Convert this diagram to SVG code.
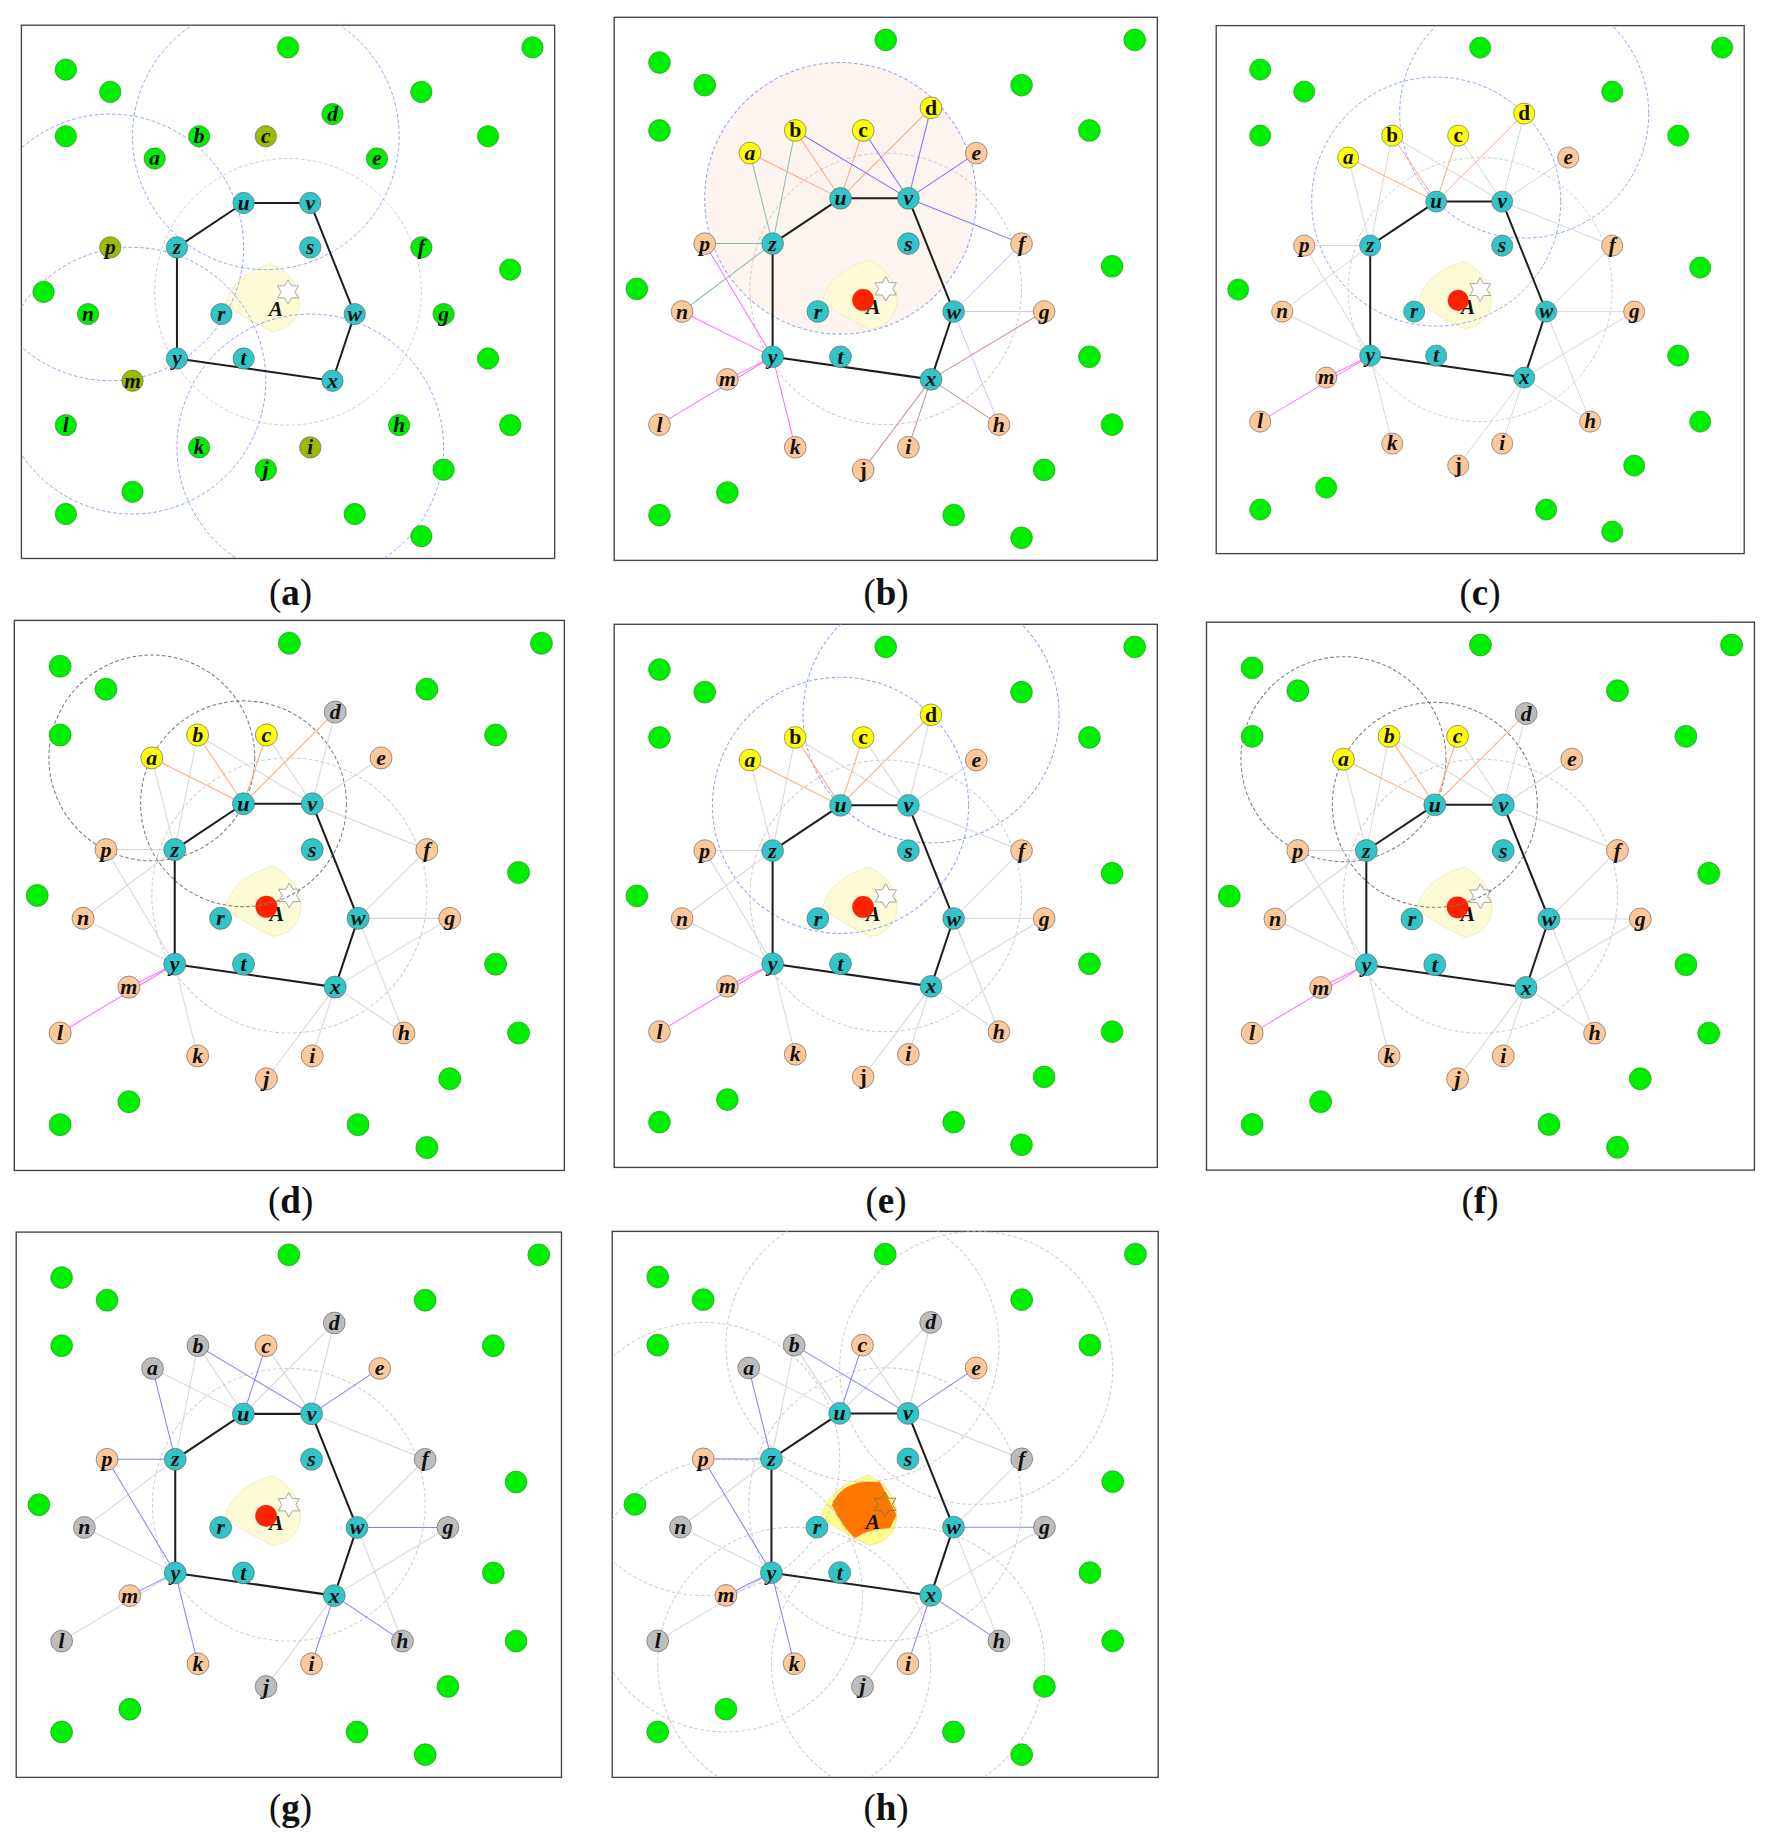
<svg xmlns="http://www.w3.org/2000/svg" width="1773" height="1845" viewBox="0 0 1773 1845">
<style>
text{font-family:"Liberation Serif","Times New Roman",serif;font-weight:bold;fill:#111}
.l{font-size:.96px;font-style:italic;text-anchor:middle}
.up{font-style:normal}
.cap{font-size:37px;font-weight:normal;text-anchor:middle}
.bd{fill:#fff;stroke:#444;stroke-width:.06}
.gn circle{fill:#00ee00;stroke:#2d8f2d;stroke-width:.03}
.nd circle{stroke:#666;stroke-width:.03}
.nT circle{fill:#30c5c8}
.nG circle{fill:#00ee00}
.nO circle{fill:#99bb00}
.nY circle{fill:#ffff00}
.nP circle{fill:#fdc99b}
.nR circle{fill:#bdbdbd}
.pent{fill:none;stroke:#1e1e1e;stroke-width:.09;stroke-linejoin:round}
.e path{fill:none;stroke-width:.045}
.eo{stroke:#ffa878}
.eb{stroke:#7474ff}
.et{stroke:#86c0b4}
.em{stroke:#ff6cff}
.el{stroke:#d4c4ff}
.er{stroke:#c89494}
.eg{stroke:#d6d6d6}
.ev{stroke:#8080ff}
.dc circle{fill:none;stroke-width:.045;stroke-dasharray:.16 .1}
.cb{stroke:#8ea2ff}
.cg{stroke:#cdcdcd}
.ck{stroke:#7a7a7a}
.area{fill:#fdfbd6;stroke:#ece4a8;stroke-width:.03}
.area2{fill:#ffff8c;stroke:#e6dc70;stroke-width:.03}
.orng{fill:#ff7700}
.star{fill:#fff;stroke:#999;stroke-width:.04}
.star2{fill:none;stroke:#7b7b3b;stroke-width:.04}
.red{fill:#ff2200}
</style>
<defs>
<clipPath id="cp"><rect width="24" height="24"/></clipPath>
<g id="greens" class="gn">
<circle cx="12" cy="1" r=".48"/><circle cx="23" cy="1" r=".48"/><circle cx="2" cy="2" r=".48"/><circle cx="4" cy="3" r=".48"/>
<circle cx="18" cy="3" r=".48"/><circle cx="2" cy="5" r=".48"/><circle cx="21" cy="5" r=".48"/><circle cx="22" cy="11" r=".48"/>
<circle cx="1" cy="12" r=".48"/><circle cx="21" cy="15" r=".48"/><circle cx="22" cy="18" r=".48"/><circle cx="5" cy="21" r=".48"/>
<circle cx="19" cy="20" r=".48"/><circle cx="2" cy="22" r=".48"/><circle cx="15" cy="22" r=".48"/><circle cx="18" cy="23" r=".48"/>
</g>
<polygon id="star6" points="12,11.46 12.155,11.73 12.47,11.73 12.31,12 12.47,12.27 12.155,12.27 12,12.54 11.845,12.27 11.53,12.27 11.69,12 11.53,11.73 11.845,11.73"/>
</defs>
<rect width="1773" height="1845" fill="#fff"/>

<!-- ===== Panel (a) ===== -->
<g id="panel-a" transform="translate(21.4,25.2) scale(22.22)">
<rect class="bd" width="24" height="24"/>
<path class="area" d="M11.28,10.72 Q12.5,11.36 12.51,12.55 Q12.4,13.63 11.3,13.79 Q10.3,13.35 9.2,12.57 Q9.46,11.26 11.28,10.72Z"/>
<text class="l" x="11.45" y="13.1">A</text>
<use href="#star6" class="star"/>
<g class="dc" clip-path="url(#cp)">
<circle class="cb" cx="11" cy="5" r="6"/><circle class="cb" cx="4" cy="10" r="6"/><circle class="cb" cx="5" cy="16" r="6"/><circle class="cb" cx="13" cy="19" r="6"/><circle class="cg" cx="12" cy="12" r="6"/>
</g>
<g id="a-connectors"><polygon class="pent" points="10,8 13,8 15,13 14,16 7,15 7,10"/></g>
<use href="#greens"/>
<g id="a-a" class="nd nG"><circle cx="6" cy="6" r=".48"/><text class="l" x="6" y="6.31">a</text></g>
<g id="a-b" class="nd nG"><circle cx="8" cy="5" r=".48"/><text class="l" x="8" y="5.31">b</text></g>
<g id="a-c" class="nd nO"><circle cx="11" cy="5" r=".48"/><text class="l" x="11" y="5.31">c</text></g>
<g id="a-d" class="nd nG"><circle cx="14" cy="4" r=".48"/><text class="l" x="14" y="4.31">d</text></g>
<g id="a-e" class="nd nG"><circle cx="16" cy="6" r=".48"/><text class="l" x="16" y="6.31">e</text></g>
<g id="a-f" class="nd nG"><circle cx="18" cy="10" r=".48"/><text class="l" x="18" y="10.31">f</text></g>
<g id="a-g" class="nd nG"><circle cx="19" cy="13" r=".48"/><text class="l" x="19" y="13.31">g</text></g>
<g id="a-h" class="nd nG"><circle cx="17" cy="18" r=".48"/><text class="l" x="17" y="18.31">h</text></g>
<g id="a-i" class="nd nO"><circle cx="13" cy="19" r=".48"/><text class="l" x="13" y="19.31">i</text></g>
<g id="a-j" class="nd nG"><circle cx="11" cy="20" r=".48"/><text class="l" x="11" y="20.31">j</text></g>
<g id="a-k" class="nd nG"><circle cx="8" cy="19" r=".48"/><text class="l" x="8" y="19.31">k</text></g>
<g id="a-l" class="nd nG"><circle cx="2" cy="18" r=".48"/><text class="l" x="2" y="18.31">l</text></g>
<g id="a-m" class="nd nO"><circle cx="5" cy="16" r=".48"/><text class="l" x="5" y="16.31">m</text></g>
<g id="a-n" class="nd nG"><circle cx="3" cy="13" r=".48"/><text class="l" x="3" y="13.31">n</text></g>
<g id="a-p" class="nd nO"><circle cx="4" cy="10" r=".48"/><text class="l" x="4" y="10.31">p</text></g>
<g id="a-u" class="nd nT"><circle cx="10" cy="8" r=".48"/><text class="l" x="10" y="8.31">u</text></g>
<g id="a-v" class="nd nT"><circle cx="13" cy="8" r=".48"/><text class="l" x="13" y="8.31">v</text></g>
<g id="a-z" class="nd nT"><circle cx="7" cy="10" r=".48"/><text class="l" x="7" y="10.31">z</text></g>
<g id="a-s" class="nd nT"><circle cx="13" cy="10" r=".48"/><text class="l" x="13" y="10.31">s</text></g>
<g id="a-r" class="nd nT"><circle cx="9" cy="13" r=".48"/><text class="l" x="9" y="13.31">r</text></g>
<g id="a-w" class="nd nT"><circle cx="15" cy="13" r=".48"/><text class="l" x="15" y="13.31">w</text></g>
<g id="a-y" class="nd nT"><circle cx="7" cy="15" r=".48"/><text class="l" x="7" y="15.31">y</text></g>
<g id="a-t" class="nd nT"><circle cx="10" cy="15" r=".48"/><text class="l" x="10" y="15.31">t</text></g>
<g id="a-x" class="nd nT"><circle cx="14" cy="16" r=".48"/><text class="l" x="14" y="16.31">x</text></g>
</g>

<!-- ===== Panel (b) ===== -->
<g id="panel-b" transform="translate(614.2,17.3) scale(22.63)">
<rect class="bd" width="24" height="24"/>
<g class="dc" clip-path="url(#cp)"><circle class="cb" cx="10" cy="8" r="6" style="fill:#fdf4f0"/><circle class="cg" cx="12" cy="12" r="6"/></g>
<path class="area" d="M11.28,10.72 Q12.5,11.36 12.51,12.55 Q12.4,13.63 11.3,13.79 Q10.3,13.35 9.2,12.57 Q9.46,11.26 11.28,10.72Z"/>
<text class="l" x="11.45" y="13.1">A</text>
<circle class="red" cx="11" cy="12.49" r=".48"/>
<use href="#star6" class="star"/>
<g id="b-connectors" class="e">
<path class="eo" d="M6 6L10 8"/><path class="eo" d="M8 5L10 8"/><path class="eo" d="M11 5L10 8"/><path class="eo" d="M14 4L10 8"/>
<path class="eb" d="M8 5L13 8"/><path class="eb" d="M11 5L13 8"/><path class="eb" d="M14 4L13 8"/><path class="eb" d="M16 6L13 8"/><path class="eb" d="M18 10L13 8"/>
<path class="et" d="M6 6L7 10"/><path class="et" d="M8 5L7 10"/><path class="et" d="M4 10L7 10"/><path class="et" d="M3 13L7 10"/>
<path class="em" d="M4 10L7 15"/><path class="em" d="M3 13L7 15"/><path class="em" d="M5 16L7 15"/><path class="em" d="M2 18L7 15"/><path class="em" d="M8 19L7 15"/>
<path class="el" d="M18 10L15 13"/><path class="el" d="M19 13L15 13"/><path class="el" d="M17 18L15 13"/>
<path class="er" d="M19 13L14 16"/><path class="er" d="M17 18L14 16"/><path class="er" d="M13 19L14 16"/><path class="er" d="M11 20L14 16"/>
<polygon class="pent" points="10,8 13,8 15,13 14,16 7,15 7,10"/>
</g>
<use href="#greens"/>
<g id="b-a" class="nd nY"><circle cx="6" cy="6" r=".48"/><text class="l" x="6" y="6.31">a</text></g>
<g id="b-b" class="nd nY"><circle cx="8" cy="5" r=".48"/><text class="l up" x="8" y="5.31">b</text></g>
<g id="b-c" class="nd nY"><circle cx="11" cy="5" r=".48"/><text class="l up" x="11" y="5.31">c</text></g>
<g id="b-d" class="nd nY"><circle cx="14" cy="4" r=".48"/><text class="l up" x="14" y="4.31">d</text></g>
<g id="b-e" class="nd nP"><circle cx="16" cy="6" r=".48"/><text class="l" x="16" y="6.31">e</text></g>
<g id="b-f" class="nd nP"><circle cx="18" cy="10" r=".48"/><text class="l" x="18" y="10.31">f</text></g>
<g id="b-g" class="nd nP"><circle cx="19" cy="13" r=".48"/><text class="l" x="19" y="13.31">g</text></g>
<g id="b-h" class="nd nP"><circle cx="17" cy="18" r=".48"/><text class="l" x="17" y="18.31">h</text></g>
<g id="b-i" class="nd nP"><circle cx="13" cy="19" r=".48"/><text class="l" x="13" y="19.31">i</text></g>
<g id="b-j" class="nd nP"><circle cx="11" cy="20" r=".48"/><text class="l up" x="11" y="20.31">j</text></g>
<g id="b-k" class="nd nP"><circle cx="8" cy="19" r=".48"/><text class="l" x="8" y="19.31">k</text></g>
<g id="b-l" class="nd nP"><circle cx="2" cy="18" r=".48"/><text class="l" x="2" y="18.31">l</text></g>
<g id="b-m" class="nd nP"><circle cx="5" cy="16" r=".48"/><text class="l" x="5" y="16.31">m</text></g>
<g id="b-n" class="nd nP"><circle cx="3" cy="13" r=".48"/><text class="l" x="3" y="13.31">n</text></g>
<g id="b-p" class="nd nP"><circle cx="4" cy="10" r=".48"/><text class="l" x="4" y="10.31">p</text></g>
<g id="b-u" class="nd nT"><circle cx="10" cy="8" r=".48"/><text class="l" x="10" y="8.31">u</text></g>
<g id="b-v" class="nd nT"><circle cx="13" cy="8" r=".48"/><text class="l" x="13" y="8.31">v</text></g>
<g id="b-z" class="nd nT"><circle cx="7" cy="10" r=".48"/><text class="l" x="7" y="10.31">z</text></g>
<g id="b-s" class="nd nT"><circle cx="13" cy="10" r=".48"/><text class="l" x="13" y="10.31">s</text></g>
<g id="b-r" class="nd nT"><circle cx="9" cy="13" r=".48"/><text class="l" x="9" y="13.31">r</text></g>
<g id="b-w" class="nd nT"><circle cx="15" cy="13" r=".48"/><text class="l" x="15" y="13.31">w</text></g>
<g id="b-y" class="nd nT"><circle cx="7" cy="15" r=".48"/><text class="l" x="7" y="15.31">y</text></g>
<g id="b-t" class="nd nT"><circle cx="10" cy="15" r=".48"/><text class="l" x="10" y="15.31">t</text></g>
<g id="b-x" class="nd nT"><circle cx="14" cy="16" r=".48"/><text class="l" x="14" y="16.31">x</text></g>
</g>

<!-- ===== Panel (c) ===== -->
<g id="panel-c" transform="translate(1216.2,25.6) scale(22.0)">
<rect class="bd" width="24" height="24"/>
<path class="area" d="M11.28,10.72 Q12.5,11.36 12.51,12.55 Q12.4,13.63 11.3,13.79 Q10.3,13.35 9.2,12.57 Q9.46,11.26 11.28,10.72Z"/>
<text class="l" x="11.45" y="13.1">A</text>
<circle class="red" cx="11" cy="12.49" r=".48"/>
<use href="#star6" class="star"/>
<g class="dc" clip-path="url(#cp)"><circle class="cb" cx="10" cy="8" r="5.66"/><circle class="cb" cx="14" cy="4" r="5.66"/><circle class="cg" cx="12" cy="12" r="6"/></g>
<g id="c-connectors" class="e">
<path class="eg" d="M8 5L13 8"/><path class="eg" d="M11 5L13 8"/><path class="eg" d="M14 4L13 8"/><path class="eg" d="M16 6L13 8"/><path class="eg" d="M18 10L13 8"/>
<path class="eg" d="M6 6L7 10"/><path class="eg" d="M8 5L7 10"/><path class="eg" d="M4 10L7 10"/><path class="eg" d="M3 13L7 10"/>
<path class="eg" d="M4 10L7 15"/><path class="eg" d="M3 13L7 15"/><path class="eg" d="M8 19L7 15"/>
<path class="eg" d="M18 10L15 13"/><path class="eg" d="M19 13L15 13"/><path class="eg" d="M17 18L15 13"/>
<path class="eg" d="M19 13L14 16"/><path class="eg" d="M17 18L14 16"/><path class="eg" d="M13 19L14 16"/><path class="eg" d="M11 20L14 16"/>
<path class="eo" d="M6 6L10 8"/><path class="eo" d="M8 5L10 8"/><path class="eo" d="M11 5L10 8"/><path class="eo" d="M14 4L10 8"/>
<path class="em" d="M5 16L7 15"/><path class="em" d="M2 18L7 15"/>
<polygon class="pent" points="10,8 13,8 15,13 14,16 7,15 7,10"/>
</g>
<use href="#greens"/>
<g id="c-a" class="nd nY"><circle cx="6" cy="6" r=".48"/><text class="l" x="6" y="6.31">a</text></g>
<g id="c-b" class="nd nY"><circle cx="8" cy="5" r=".48"/><text class="l up" x="8" y="5.31">b</text></g>
<g id="c-c" class="nd nY"><circle cx="11" cy="5" r=".48"/><text class="l up" x="11" y="5.31">c</text></g>
<g id="c-d" class="nd nY"><circle cx="14" cy="4" r=".48"/><text class="l up" x="14" y="4.31">d</text></g>
<g id="c-e" class="nd nP"><circle cx="16" cy="6" r=".48"/><text class="l" x="16" y="6.31">e</text></g>
<g id="c-f" class="nd nP"><circle cx="18" cy="10" r=".48"/><text class="l" x="18" y="10.31">f</text></g>
<g id="c-g" class="nd nP"><circle cx="19" cy="13" r=".48"/><text class="l" x="19" y="13.31">g</text></g>
<g id="c-h" class="nd nP"><circle cx="17" cy="18" r=".48"/><text class="l" x="17" y="18.31">h</text></g>
<g id="c-i" class="nd nP"><circle cx="13" cy="19" r=".48"/><text class="l" x="13" y="19.31">i</text></g>
<g id="c-j" class="nd nP"><circle cx="11" cy="20" r=".48"/><text class="l up" x="11" y="20.31">j</text></g>
<g id="c-k" class="nd nP"><circle cx="8" cy="19" r=".48"/><text class="l" x="8" y="19.31">k</text></g>
<g id="c-l" class="nd nP"><circle cx="2" cy="18" r=".48"/><text class="l" x="2" y="18.31">l</text></g>
<g id="c-m" class="nd nP"><circle cx="5" cy="16" r=".48"/><text class="l" x="5" y="16.31">m</text></g>
<g id="c-n" class="nd nP"><circle cx="3" cy="13" r=".48"/><text class="l" x="3" y="13.31">n</text></g>
<g id="c-p" class="nd nP"><circle cx="4" cy="10" r=".48"/><text class="l" x="4" y="10.31">p</text></g>
<g id="c-u" class="nd nT"><circle cx="10" cy="8" r=".48"/><text class="l" x="10" y="8.31">u</text></g>
<g id="c-v" class="nd nT"><circle cx="13" cy="8" r=".48"/><text class="l" x="13" y="8.31">v</text></g>
<g id="c-z" class="nd nT"><circle cx="7" cy="10" r=".48"/><text class="l" x="7" y="10.31">z</text></g>
<g id="c-s" class="nd nT"><circle cx="13" cy="10" r=".48"/><text class="l" x="13" y="10.31">s</text></g>
<g id="c-r" class="nd nT"><circle cx="9" cy="13" r=".48"/><text class="l" x="9" y="13.31">r</text></g>
<g id="c-w" class="nd nT"><circle cx="15" cy="13" r=".48"/><text class="l" x="15" y="13.31">w</text></g>
<g id="c-y" class="nd nT"><circle cx="7" cy="15" r=".48"/><text class="l" x="7" y="15.31">y</text></g>
<g id="c-t" class="nd nT"><circle cx="10" cy="15" r=".48"/><text class="l" x="10" y="15.31">t</text></g>
<g id="c-x" class="nd nT"><circle cx="14" cy="16" r=".48"/><text class="l" x="14" y="16.31">x</text></g>
</g>

<!-- ===== Panel (d) ===== -->
<g id="panel-d" transform="translate(14.3,620.4) scale(22.92)">
<rect class="bd" width="24" height="24"/>
<path class="area" d="M11.28,10.72 Q12.5,11.36 12.51,12.55 Q12.4,13.63 11.3,13.79 Q10.3,13.35 9.2,12.57 Q9.46,11.26 11.28,10.72Z"/>
<text class="l" x="11.45" y="13.1">A</text>
<circle class="red" cx="11" cy="12.49" r=".48"/>
<use href="#star6" class="star"/>
<g class="dc" clip-path="url(#cp)"><circle class="ck" cx="6" cy="6" r="4.49"/><circle class="ck" cx="10" cy="8" r="4.49"/><circle class="cg" cx="12" cy="12" r="6"/></g>
<g id="d-connectors" class="e">
<path class="eg" d="M8 5L13 8"/><path class="eg" d="M11 5L13 8"/><path class="eg" d="M14 4L13 8"/><path class="eg" d="M16 6L13 8"/><path class="eg" d="M18 10L13 8"/>
<path class="eg" d="M6 6L7 10"/><path class="eg" d="M8 5L7 10"/><path class="eg" d="M4 10L7 10"/><path class="eg" d="M3 13L7 10"/>
<path class="eg" d="M4 10L7 15"/><path class="eg" d="M3 13L7 15"/><path class="eg" d="M8 19L7 15"/>
<path class="eg" d="M18 10L15 13"/><path class="eg" d="M19 13L15 13"/><path class="eg" d="M17 18L15 13"/>
<path class="eg" d="M19 13L14 16"/><path class="eg" d="M17 18L14 16"/><path class="eg" d="M13 19L14 16"/><path class="eg" d="M11 20L14 16"/>
<path class="eo" d="M6 6L10 8"/><path class="eo" d="M8 5L10 8"/><path class="eo" d="M11 5L10 8"/><path class="eo" d="M14 4L10 8"/>
<path class="em" d="M5 16L7 15"/><path class="em" d="M2 18L7 15"/>
<polygon class="pent" points="10,8 13,8 15,13 14,16 7,15 7,10"/>
</g>
<use href="#greens"/>
<g id="d-a" class="nd nY"><circle cx="6" cy="6" r=".48"/><text class="l" x="6" y="6.31">a</text></g>
<g id="d-b" class="nd nY"><circle cx="8" cy="5" r=".48"/><text class="l" x="8" y="5.31">b</text></g>
<g id="d-c" class="nd nY"><circle cx="11" cy="5" r=".48"/><text class="l" x="11" y="5.31">c</text></g>
<g id="d-d" class="nd nR"><circle cx="14" cy="4" r=".48"/><text class="l" x="14" y="4.31">d</text></g>
<g id="d-e" class="nd nP"><circle cx="16" cy="6" r=".48"/><text class="l" x="16" y="6.31">e</text></g>
<g id="d-f" class="nd nP"><circle cx="18" cy="10" r=".48"/><text class="l" x="18" y="10.31">f</text></g>
<g id="d-g" class="nd nP"><circle cx="19" cy="13" r=".48"/><text class="l" x="19" y="13.31">g</text></g>
<g id="d-h" class="nd nP"><circle cx="17" cy="18" r=".48"/><text class="l" x="17" y="18.31">h</text></g>
<g id="d-i" class="nd nP"><circle cx="13" cy="19" r=".48"/><text class="l" x="13" y="19.31">i</text></g>
<g id="d-j" class="nd nP"><circle cx="11" cy="20" r=".48"/><text class="l" x="11" y="20.31">j</text></g>
<g id="d-k" class="nd nP"><circle cx="8" cy="19" r=".48"/><text class="l" x="8" y="19.31">k</text></g>
<g id="d-l" class="nd nP"><circle cx="2" cy="18" r=".48"/><text class="l" x="2" y="18.31">l</text></g>
<g id="d-m" class="nd nP"><circle cx="5" cy="16" r=".48"/><text class="l" x="5" y="16.31">m</text></g>
<g id="d-n" class="nd nP"><circle cx="3" cy="13" r=".48"/><text class="l" x="3" y="13.31">n</text></g>
<g id="d-p" class="nd nP"><circle cx="4" cy="10" r=".48"/><text class="l" x="4" y="10.31">p</text></g>
<g id="d-u" class="nd nT"><circle cx="10" cy="8" r=".48"/><text class="l" x="10" y="8.31">u</text></g>
<g id="d-v" class="nd nT"><circle cx="13" cy="8" r=".48"/><text class="l" x="13" y="8.31">v</text></g>
<g id="d-z" class="nd nT"><circle cx="7" cy="10" r=".48"/><text class="l" x="7" y="10.31">z</text></g>
<g id="d-s" class="nd nT"><circle cx="13" cy="10" r=".48"/><text class="l" x="13" y="10.31">s</text></g>
<g id="d-r" class="nd nT"><circle cx="9" cy="13" r=".48"/><text class="l" x="9" y="13.31">r</text></g>
<g id="d-w" class="nd nT"><circle cx="15" cy="13" r=".48"/><text class="l" x="15" y="13.31">w</text></g>
<g id="d-y" class="nd nT"><circle cx="7" cy="15" r=".48"/><text class="l" x="7" y="15.31">y</text></g>
<g id="d-t" class="nd nT"><circle cx="10" cy="15" r=".48"/><text class="l" x="10" y="15.31">t</text></g>
<g id="d-x" class="nd nT"><circle cx="14" cy="16" r=".48"/><text class="l" x="14" y="16.31">x</text></g>
</g>

<!-- ===== Panel (e) ===== -->
<g id="panel-e" transform="translate(614.2,624.3) scale(22.63)">
<rect class="bd" width="24" height="24"/>
<path class="area" d="M11.28,10.72 Q12.5,11.36 12.51,12.55 Q12.4,13.63 11.3,13.79 Q10.3,13.35 9.2,12.57 Q9.46,11.26 11.28,10.72Z"/>
<text class="l" x="11.45" y="13.1">A</text>
<circle class="red" cx="11" cy="12.49" r=".48"/>
<use href="#star6" class="star"/>
<g class="dc" clip-path="url(#cp)"><circle class="cb" cx="10" cy="8" r="5.66"/><circle class="cb" cx="14" cy="4" r="5.66"/><circle class="cg" cx="12" cy="12" r="6"/></g>
<g id="e-connectors" class="e">
<path class="eg" d="M8 5L13 8"/><path class="eg" d="M11 5L13 8"/><path class="eg" d="M14 4L13 8"/><path class="eg" d="M16 6L13 8"/><path class="eg" d="M18 10L13 8"/>
<path class="eg" d="M6 6L7 10"/><path class="eg" d="M8 5L7 10"/><path class="eg" d="M4 10L7 10"/><path class="eg" d="M3 13L7 10"/>
<path class="eg" d="M4 10L7 15"/><path class="eg" d="M3 13L7 15"/><path class="eg" d="M8 19L7 15"/>
<path class="eg" d="M18 10L15 13"/><path class="eg" d="M19 13L15 13"/><path class="eg" d="M17 18L15 13"/>
<path class="eg" d="M19 13L14 16"/><path class="eg" d="M17 18L14 16"/><path class="eg" d="M13 19L14 16"/><path class="eg" d="M11 20L14 16"/>
<path class="eo" d="M6 6L10 8"/><path class="eo" d="M8 5L10 8"/><path class="eo" d="M11 5L10 8"/><path class="eo" d="M14 4L10 8"/>
<path class="em" d="M5 16L7 15"/><path class="em" d="M2 18L7 15"/>
<polygon class="pent" points="10,8 13,8 15,13 14,16 7,15 7,10"/>
</g>
<use href="#greens"/>
<g id="e-a" class="nd nY"><circle cx="6" cy="6" r=".48"/><text class="l" x="6" y="6.31">a</text></g>
<g id="e-b" class="nd nY"><circle cx="8" cy="5" r=".48"/><text class="l up" x="8" y="5.31">b</text></g>
<g id="e-c" class="nd nY"><circle cx="11" cy="5" r=".48"/><text class="l up" x="11" y="5.31">c</text></g>
<g id="e-d" class="nd nY"><circle cx="14" cy="4" r=".48"/><text class="l up" x="14" y="4.31">d</text></g>
<g id="e-e" class="nd nP"><circle cx="16" cy="6" r=".48"/><text class="l" x="16" y="6.31">e</text></g>
<g id="e-f" class="nd nP"><circle cx="18" cy="10" r=".48"/><text class="l" x="18" y="10.31">f</text></g>
<g id="e-g" class="nd nP"><circle cx="19" cy="13" r=".48"/><text class="l" x="19" y="13.31">g</text></g>
<g id="e-h" class="nd nP"><circle cx="17" cy="18" r=".48"/><text class="l" x="17" y="18.31">h</text></g>
<g id="e-i" class="nd nP"><circle cx="13" cy="19" r=".48"/><text class="l" x="13" y="19.31">i</text></g>
<g id="e-j" class="nd nP"><circle cx="11" cy="20" r=".48"/><text class="l up" x="11" y="20.31">j</text></g>
<g id="e-k" class="nd nP"><circle cx="8" cy="19" r=".48"/><text class="l" x="8" y="19.31">k</text></g>
<g id="e-l" class="nd nP"><circle cx="2" cy="18" r=".48"/><text class="l" x="2" y="18.31">l</text></g>
<g id="e-m" class="nd nP"><circle cx="5" cy="16" r=".48"/><text class="l" x="5" y="16.31">m</text></g>
<g id="e-n" class="nd nP"><circle cx="3" cy="13" r=".48"/><text class="l" x="3" y="13.31">n</text></g>
<g id="e-p" class="nd nP"><circle cx="4" cy="10" r=".48"/><text class="l" x="4" y="10.31">p</text></g>
<g id="e-u" class="nd nT"><circle cx="10" cy="8" r=".48"/><text class="l" x="10" y="8.31">u</text></g>
<g id="e-v" class="nd nT"><circle cx="13" cy="8" r=".48"/><text class="l" x="13" y="8.31">v</text></g>
<g id="e-z" class="nd nT"><circle cx="7" cy="10" r=".48"/><text class="l" x="7" y="10.31">z</text></g>
<g id="e-s" class="nd nT"><circle cx="13" cy="10" r=".48"/><text class="l" x="13" y="10.31">s</text></g>
<g id="e-r" class="nd nT"><circle cx="9" cy="13" r=".48"/><text class="l" x="9" y="13.31">r</text></g>
<g id="e-w" class="nd nT"><circle cx="15" cy="13" r=".48"/><text class="l" x="15" y="13.31">w</text></g>
<g id="e-y" class="nd nT"><circle cx="7" cy="15" r=".48"/><text class="l" x="7" y="15.31">y</text></g>
<g id="e-t" class="nd nT"><circle cx="10" cy="15" r=".48"/><text class="l" x="10" y="15.31">t</text></g>
<g id="e-x" class="nd nT"><circle cx="14" cy="16" r=".48"/><text class="l" x="14" y="16.31">x</text></g>
</g>

<!-- ===== Panel (f) ===== -->
<g id="panel-f" transform="translate(1206.5,622.2) scale(22.83)">
<rect class="bd" width="24" height="24"/>
<path class="area" d="M11.28,10.72 Q12.5,11.36 12.51,12.55 Q12.4,13.63 11.3,13.79 Q10.3,13.35 9.2,12.57 Q9.46,11.26 11.28,10.72Z"/>
<text class="l" x="11.45" y="13.1">A</text>
<circle class="red" cx="11" cy="12.49" r=".48"/>
<use href="#star6" class="star"/>
<g class="dc" clip-path="url(#cp)"><circle class="ck" cx="6" cy="6" r="4.49"/><circle class="ck" cx="10" cy="8" r="4.49"/><circle class="cg" cx="12" cy="12" r="6"/></g>
<g id="f-connectors" class="e">
<path class="eg" d="M8 5L13 8"/><path class="eg" d="M11 5L13 8"/><path class="eg" d="M14 4L13 8"/><path class="eg" d="M16 6L13 8"/><path class="eg" d="M18 10L13 8"/>
<path class="eg" d="M6 6L7 10"/><path class="eg" d="M8 5L7 10"/><path class="eg" d="M4 10L7 10"/><path class="eg" d="M3 13L7 10"/>
<path class="eg" d="M4 10L7 15"/><path class="eg" d="M3 13L7 15"/><path class="eg" d="M8 19L7 15"/>
<path class="eg" d="M18 10L15 13"/><path class="eg" d="M19 13L15 13"/><path class="eg" d="M17 18L15 13"/>
<path class="eg" d="M19 13L14 16"/><path class="eg" d="M17 18L14 16"/><path class="eg" d="M13 19L14 16"/><path class="eg" d="M11 20L14 16"/>
<path class="eo" d="M6 6L10 8"/><path class="eo" d="M8 5L10 8"/><path class="eo" d="M11 5L10 8"/><path class="eo" d="M14 4L10 8"/>
<path class="em" d="M5 16L7 15"/><path class="em" d="M2 18L7 15"/>
<polygon class="pent" points="10,8 13,8 15,13 14,16 7,15 7,10"/>
</g>
<use href="#greens"/>
<g id="f-a" class="nd nY"><circle cx="6" cy="6" r=".48"/><text class="l" x="6" y="6.31">a</text></g>
<g id="f-b" class="nd nY"><circle cx="8" cy="5" r=".48"/><text class="l" x="8" y="5.31">b</text></g>
<g id="f-c" class="nd nY"><circle cx="11" cy="5" r=".48"/><text class="l" x="11" y="5.31">c</text></g>
<g id="f-d" class="nd nR"><circle cx="14" cy="4" r=".48"/><text class="l" x="14" y="4.31">d</text></g>
<g id="f-e" class="nd nP"><circle cx="16" cy="6" r=".48"/><text class="l" x="16" y="6.31">e</text></g>
<g id="f-f" class="nd nP"><circle cx="18" cy="10" r=".48"/><text class="l" x="18" y="10.31">f</text></g>
<g id="f-g" class="nd nP"><circle cx="19" cy="13" r=".48"/><text class="l" x="19" y="13.31">g</text></g>
<g id="f-h" class="nd nP"><circle cx="17" cy="18" r=".48"/><text class="l" x="17" y="18.31">h</text></g>
<g id="f-i" class="nd nP"><circle cx="13" cy="19" r=".48"/><text class="l" x="13" y="19.31">i</text></g>
<g id="f-j" class="nd nP"><circle cx="11" cy="20" r=".48"/><text class="l" x="11" y="20.31">j</text></g>
<g id="f-k" class="nd nP"><circle cx="8" cy="19" r=".48"/><text class="l" x="8" y="19.31">k</text></g>
<g id="f-l" class="nd nP"><circle cx="2" cy="18" r=".48"/><text class="l" x="2" y="18.31">l</text></g>
<g id="f-m" class="nd nP"><circle cx="5" cy="16" r=".48"/><text class="l" x="5" y="16.31">m</text></g>
<g id="f-n" class="nd nP"><circle cx="3" cy="13" r=".48"/><text class="l" x="3" y="13.31">n</text></g>
<g id="f-p" class="nd nP"><circle cx="4" cy="10" r=".48"/><text class="l" x="4" y="10.31">p</text></g>
<g id="f-u" class="nd nT"><circle cx="10" cy="8" r=".48"/><text class="l" x="10" y="8.31">u</text></g>
<g id="f-v" class="nd nT"><circle cx="13" cy="8" r=".48"/><text class="l" x="13" y="8.31">v</text></g>
<g id="f-z" class="nd nT"><circle cx="7" cy="10" r=".48"/><text class="l" x="7" y="10.31">z</text></g>
<g id="f-s" class="nd nT"><circle cx="13" cy="10" r=".48"/><text class="l" x="13" y="10.31">s</text></g>
<g id="f-r" class="nd nT"><circle cx="9" cy="13" r=".48"/><text class="l" x="9" y="13.31">r</text></g>
<g id="f-w" class="nd nT"><circle cx="15" cy="13" r=".48"/><text class="l" x="15" y="13.31">w</text></g>
<g id="f-y" class="nd nT"><circle cx="7" cy="15" r=".48"/><text class="l" x="7" y="15.31">y</text></g>
<g id="f-t" class="nd nT"><circle cx="10" cy="15" r=".48"/><text class="l" x="10" y="15.31">t</text></g>
<g id="f-x" class="nd nT"><circle cx="14" cy="16" r=".48"/><text class="l" x="14" y="16.31">x</text></g>
</g>

<!-- ===== Panel (g) ===== -->
<g id="panel-g" transform="translate(16.2,1232.1) scale(22.72)">
<rect class="bd" width="24" height="24"/>
<path class="area" d="M11.28,10.72 Q12.5,11.36 12.51,12.55 Q12.4,13.63 11.3,13.79 Q10.3,13.35 9.2,12.57 Q9.46,11.26 11.28,10.72Z"/>
<text class="l" x="11.45" y="13.1">A</text>
<circle class="red" cx="11" cy="12.49" r=".48"/>
<use href="#star6" class="star"/>
<g class="dc" clip-path="url(#cp)"><circle class="cg" cx="12" cy="12" r="6"/></g>
<g id="g-connectors" class="e">
<path class="eg" d="M8 5L7 10"/><path class="eg" d="M3 13L7 10"/><path class="eg" d="M3 13L7 15"/><path class="eg" d="M2 18L7 15"/>
<path class="eg" d="M6 6L10 8"/><path class="eg" d="M8 5L10 8"/><path class="eg" d="M14 4L10 8"/>
<path class="eg" d="M11 5L13 8"/><path class="eg" d="M14 4L13 8"/><path class="eg" d="M18 10L13 8"/>
<path class="eg" d="M18 10L15 13"/><path class="eg" d="M17 18L15 13"/><path class="eg" d="M19 13L14 16"/><path class="eg" d="M11 20L14 16"/>
<path class="ev" d="M6 6L7 10"/><path class="ev" d="M4 10L7 10"/><path class="ev" d="M4 10L7 15"/><path class="ev" d="M5 16L7 15"/><path class="ev" d="M8 19L7 15"/>
<path class="ev" d="M11 5L10 8"/><path class="ev" d="M8 5L13 8"/><path class="ev" d="M16 6L13 8"/>
<path class="ev" d="M19 13L15 13"/><path class="ev" d="M17 18L14 16"/><path class="ev" d="M13 19L14 16"/>
<polygon class="pent" points="10,8 13,8 15,13 14,16 7,15 7,10"/>
</g>
<use href="#greens"/>
<g id="g-a" class="nd nR"><circle cx="6" cy="6" r=".48"/><text class="l" x="6" y="6.31">a</text></g>
<g id="g-b" class="nd nR"><circle cx="8" cy="5" r=".48"/><text class="l" x="8" y="5.31">b</text></g>
<g id="g-c" class="nd nP"><circle cx="11" cy="5" r=".48"/><text class="l" x="11" y="5.31">c</text></g>
<g id="g-d" class="nd nR"><circle cx="14" cy="4" r=".48"/><text class="l" x="14" y="4.31">d</text></g>
<g id="g-e" class="nd nP"><circle cx="16" cy="6" r=".48"/><text class="l" x="16" y="6.31">e</text></g>
<g id="g-f" class="nd nR"><circle cx="18" cy="10" r=".48"/><text class="l" x="18" y="10.31">f</text></g>
<g id="g-g" class="nd nR"><circle cx="19" cy="13" r=".48"/><text class="l" x="19" y="13.31">g</text></g>
<g id="g-h" class="nd nR"><circle cx="17" cy="18" r=".48"/><text class="l" x="17" y="18.31">h</text></g>
<g id="g-i" class="nd nP"><circle cx="13" cy="19" r=".48"/><text class="l" x="13" y="19.31">i</text></g>
<g id="g-j" class="nd nR"><circle cx="11" cy="20" r=".48"/><text class="l" x="11" y="20.31">j</text></g>
<g id="g-k" class="nd nP"><circle cx="8" cy="19" r=".48"/><text class="l" x="8" y="19.31">k</text></g>
<g id="g-l" class="nd nR"><circle cx="2" cy="18" r=".48"/><text class="l" x="2" y="18.31">l</text></g>
<g id="g-m" class="nd nP"><circle cx="5" cy="16" r=".48"/><text class="l" x="5" y="16.31">m</text></g>
<g id="g-n" class="nd nR"><circle cx="3" cy="13" r=".48"/><text class="l" x="3" y="13.31">n</text></g>
<g id="g-p" class="nd nP"><circle cx="4" cy="10" r=".48"/><text class="l" x="4" y="10.31">p</text></g>
<g id="g-u" class="nd nT"><circle cx="10" cy="8" r=".48"/><text class="l" x="10" y="8.31">u</text></g>
<g id="g-v" class="nd nT"><circle cx="13" cy="8" r=".48"/><text class="l" x="13" y="8.31">v</text></g>
<g id="g-z" class="nd nT"><circle cx="7" cy="10" r=".48"/><text class="l" x="7" y="10.31">z</text></g>
<g id="g-s" class="nd nT"><circle cx="13" cy="10" r=".48"/><text class="l" x="13" y="10.31">s</text></g>
<g id="g-r" class="nd nT"><circle cx="9" cy="13" r=".48"/><text class="l" x="9" y="13.31">r</text></g>
<g id="g-w" class="nd nT"><circle cx="15" cy="13" r=".48"/><text class="l" x="15" y="13.31">w</text></g>
<g id="g-y" class="nd nT"><circle cx="7" cy="15" r=".48"/><text class="l" x="7" y="15.31">y</text></g>
<g id="g-t" class="nd nT"><circle cx="10" cy="15" r=".48"/><text class="l" x="10" y="15.31">t</text></g>
<g id="g-x" class="nd nT"><circle cx="14" cy="16" r=".48"/><text class="l" x="14" y="16.31">x</text></g>
</g>

<!-- ===== Panel (h) ===== -->
<g id="panel-h" transform="translate(612.2,1231.4) scale(22.75)">
<rect class="bd" width="24" height="24"/>
<path class="area2" d="M11.28,10.72 Q12.5,11.36 12.51,12.55 Q12.4,13.63 11.3,13.79 Q10.3,13.35 9.2,12.57 Q9.46,11.26 11.28,10.72Z"/>
<path class="orng" d="M9.65,12.03 Q10,11.15 11.04,11.0 L11.77,11.0 L12.5,12.47 L12.21,13.05 Q11.3,13.05 10.67,13.49 Q10.05,12.9 9.65,12.03Z"/>
<text class="l" x="11.45" y="13.1">A</text>
<use href="#star6" class="star2"/>
<g class="dc" clip-path="url(#cp)">
<circle class="cg" cx="11" cy="5" r="6"/><circle class="cg" cx="16" cy="6" r="6"/><circle class="cg" cx="4" cy="10" r="6"/><circle class="cg" cx="5" cy="16" r="6"/><circle class="cg" cx="13" cy="19" r="6"/><circle class="cg" cx="8" cy="19" r="6"/><circle class="cg" cx="12" cy="12" r="6"/>
</g>
<g id="h-connectors" class="e">
<path class="eg" d="M8 5L7 10"/><path class="eg" d="M3 13L7 10"/><path class="eg" d="M3 13L7 15"/><path class="eg" d="M2 18L7 15"/>
<path class="eg" d="M6 6L10 8"/><path class="eg" d="M8 5L10 8"/><path class="eg" d="M14 4L10 8"/>
<path class="eg" d="M11 5L13 8"/><path class="eg" d="M14 4L13 8"/><path class="eg" d="M18 10L13 8"/>
<path class="eg" d="M18 10L15 13"/><path class="eg" d="M17 18L15 13"/><path class="eg" d="M19 13L14 16"/><path class="eg" d="M11 20L14 16"/>
<path class="ev" d="M6 6L7 10"/><path class="ev" d="M4 10L7 10"/><path class="ev" d="M4 10L7 15"/><path class="ev" d="M5 16L7 15"/><path class="ev" d="M8 19L7 15"/>
<path class="ev" d="M11 5L10 8"/><path class="ev" d="M8 5L13 8"/><path class="ev" d="M16 6L13 8"/>
<path class="ev" d="M19 13L15 13"/><path class="ev" d="M17 18L14 16"/><path class="ev" d="M13 19L14 16"/>
<polygon class="pent" points="10,8 13,8 15,13 14,16 7,15 7,10"/>
</g>
<use href="#greens"/>
<g id="h-a" class="nd nR"><circle cx="6" cy="6" r=".48"/><text class="l" x="6" y="6.31">a</text></g>
<g id="h-b" class="nd nR"><circle cx="8" cy="5" r=".48"/><text class="l" x="8" y="5.31">b</text></g>
<g id="h-c" class="nd nP"><circle cx="11" cy="5" r=".48"/><text class="l" x="11" y="5.31">c</text></g>
<g id="h-d" class="nd nR"><circle cx="14" cy="4" r=".48"/><text class="l" x="14" y="4.31">d</text></g>
<g id="h-e" class="nd nP"><circle cx="16" cy="6" r=".48"/><text class="l" x="16" y="6.31">e</text></g>
<g id="h-f" class="nd nR"><circle cx="18" cy="10" r=".48"/><text class="l" x="18" y="10.31">f</text></g>
<g id="h-g" class="nd nR"><circle cx="19" cy="13" r=".48"/><text class="l" x="19" y="13.31">g</text></g>
<g id="h-h" class="nd nR"><circle cx="17" cy="18" r=".48"/><text class="l" x="17" y="18.31">h</text></g>
<g id="h-i" class="nd nP"><circle cx="13" cy="19" r=".48"/><text class="l" x="13" y="19.31">i</text></g>
<g id="h-j" class="nd nR"><circle cx="11" cy="20" r=".48"/><text class="l" x="11" y="20.31">j</text></g>
<g id="h-k" class="nd nP"><circle cx="8" cy="19" r=".48"/><text class="l" x="8" y="19.31">k</text></g>
<g id="h-l" class="nd nR"><circle cx="2" cy="18" r=".48"/><text class="l" x="2" y="18.31">l</text></g>
<g id="h-m" class="nd nP"><circle cx="5" cy="16" r=".48"/><text class="l" x="5" y="16.31">m</text></g>
<g id="h-n" class="nd nR"><circle cx="3" cy="13" r=".48"/><text class="l" x="3" y="13.31">n</text></g>
<g id="h-p" class="nd nP"><circle cx="4" cy="10" r=".48"/><text class="l" x="4" y="10.31">p</text></g>
<g id="h-u" class="nd nT"><circle cx="10" cy="8" r=".48"/><text class="l" x="10" y="8.31">u</text></g>
<g id="h-v" class="nd nT"><circle cx="13" cy="8" r=".48"/><text class="l" x="13" y="8.31">v</text></g>
<g id="h-z" class="nd nT"><circle cx="7" cy="10" r=".48"/><text class="l" x="7" y="10.31">z</text></g>
<g id="h-s" class="nd nT"><circle cx="13" cy="10" r=".48"/><text class="l" x="13" y="10.31">s</text></g>
<g id="h-r" class="nd nT"><circle cx="9" cy="13" r=".48"/><text class="l" x="9" y="13.31">r</text></g>
<g id="h-w" class="nd nT"><circle cx="15" cy="13" r=".48"/><text class="l" x="15" y="13.31">w</text></g>
<g id="h-y" class="nd nT"><circle cx="7" cy="15" r=".48"/><text class="l" x="7" y="15.31">y</text></g>
<g id="h-t" class="nd nT"><circle cx="10" cy="15" r=".48"/><text class="l" x="10" y="15.31">t</text></g>
<g id="h-x" class="nd nT"><circle cx="14" cy="16" r=".48"/><text class="l" x="14" y="16.31">x</text></g>
</g>

<!-- ===== Captions ===== -->
<g id="captions">
<text class="cap" x="290.6" y="605">(<tspan font-weight="bold">a</tspan>)</text>
<text class="cap" x="886" y="605">(<tspan font-weight="bold">b</tspan>)</text>
<text class="cap" x="1480" y="605">(<tspan font-weight="bold">c</tspan>)</text>
<text class="cap" x="290.6" y="1213">(<tspan font-weight="bold">d</tspan>)</text>
<text class="cap" x="886" y="1213">(<tspan font-weight="bold">e</tspan>)</text>
<text class="cap" x="1480" y="1213">(<tspan font-weight="bold">f</tspan>)</text>
<text class="cap" x="290.6" y="1820">(<tspan font-weight="bold">g</tspan>)</text>
<text class="cap" x="886" y="1820">(<tspan font-weight="bold">h</tspan>)</text>
</g>
</svg>
